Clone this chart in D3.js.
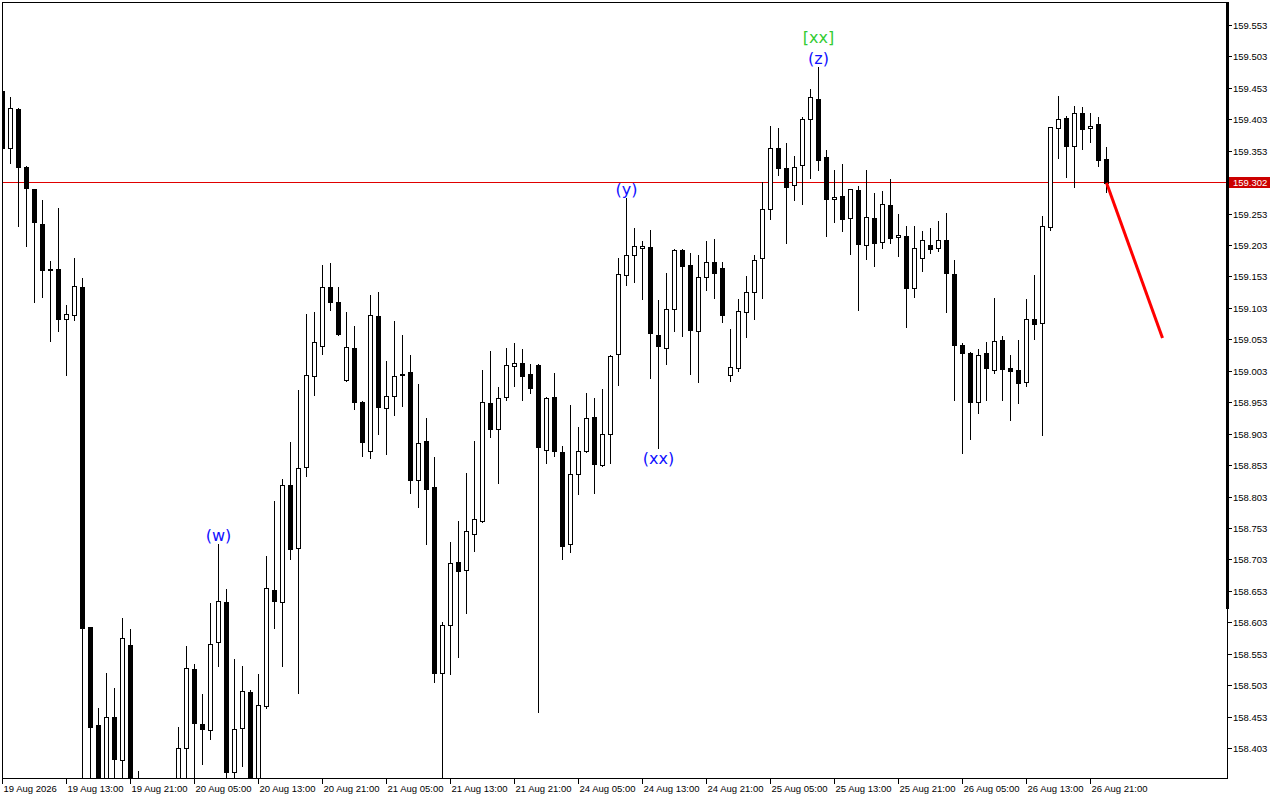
<!DOCTYPE html>
<html lang="en">
<head>
<meta charset="utf-8">
<script src="https://d3js.org/d3.v7.min.js"></script>
<style>
body { margin: 0; background: #fff; }
svg { display: block; }
text { font-family: "Liberation Sans", Arial, sans-serif; font-size: 9.5px; fill: #000; }
.wave { font-family: "DejaVu Sans", sans-serif; font-size: 16px; }
</style>
</head>
<body>

<svg width="1280" height="800"></svg>

<script>
// hourly bars, oldest first
var barOpen = [
  159.448, 159.358, 159.420, 159.327, 159.292, 159.237, 159.165, 159.165, 159.086, 159.092,
  159.136, 158.595, 158.440, 158.345, 158.452, 158.384, 158.567, 158.350, 158.330, 158.300,
  158.320, 158.310, 158.330, 158.403, 158.529, 158.441, 158.432, 158.572, 158.635, 158.365,
  158.435, 158.492, 158.345, 158.470, 158.654, 158.635, 158.821, 158.721, 158.850, 158.994,
  159.043, 159.136, 159.112, 158.988, 159.039, 158.954, 158.876, 159.090, 158.944, 158.963,
  158.998, 159.001, 158.830, 158.891, 158.818, 158.522, 158.598, 158.699, 158.686, 158.743,
  158.764, 158.951, 158.911, 158.961, 159.010, 159.015, 158.998, 159.012, 158.877, 158.961,
  158.874, 158.727, 158.839, 158.875, 158.929, 158.853, 158.902, 159.029, 159.156, 159.187,
  159.198, 159.200, 159.060, 159.040, 159.101, 159.195, 159.171, 159.067, 159.152, 159.176,
  159.166, 158.997, 159.007, 159.096, 159.129, 159.182, 159.261, 159.358, 159.325, 159.298,
  159.330, 159.404, 159.436, 159.343, 159.276, 159.281, 159.246, 159.290, 159.203, 159.246,
  159.208, 159.266, 159.215, 159.217, 159.134, 159.183, 159.203, 159.198, 159.211, 159.157,
  159.044, 159.032, 158.954, 159.031, 159.005, 159.052, 159.007, 159.005, 158.985, 159.086,
  159.079, 159.231, 159.389, 159.405, 159.361, 159.413, 159.389, 159.396, 159.340
];
var barHigh = [
  159.452, 159.438, 159.421, 159.328, 159.292, 159.275, 159.178, 159.262, 159.108, 159.183,
  159.151, 158.596, 158.467, 158.522, 158.498, 158.609, 158.592, 158.366, 158.345, 158.330,
  158.350, 158.345, 158.437, 158.565, 158.537, 158.489, 158.634, 158.728, 158.656, 158.545,
  158.533, 158.496, 158.521, 158.708, 158.796, 158.831, 158.889, 158.972, 159.093, 159.097,
  159.172, 159.175, 159.137, 159.097, 159.074, 158.955, 159.124, 159.128, 159.019, 159.082,
  159.060, 159.028, 158.982, 158.928, 158.866, 158.603, 158.731, 158.764, 158.840, 158.891,
  159.004, 159.034, 158.977, 159.039, 159.047, 159.038, 159.014, 159.013, 158.962, 158.999,
  158.884, 158.948, 158.914, 158.968, 158.960, 158.974, 159.028, 159.182, 159.278, 159.230,
  159.209, 159.227, 159.116, 159.158, 159.197, 159.197, 159.190, 159.187, 159.209, 159.213,
  159.176, 159.069, 159.117, 159.154, 159.187, 159.303, 159.392, 159.389, 159.365, 159.344,
  159.407, 159.451, 159.486, 159.354, 159.322, 159.332, 159.292, 159.297, 159.322, 159.286,
  159.289, 159.308, 159.252, 159.233, 159.233, 159.225, 159.230, 159.241, 159.254, 159.179,
  159.047, 159.033, 159.037, 159.049, 159.119, 159.059, 159.028, 159.052, 159.117, 159.155,
  159.249, 159.391, 159.440, 159.408, 159.424, 159.422, 159.413, 159.407, 159.359
];
var barLow = [
  159.352, 159.334, 159.234, 159.202, 159.113, 159.121, 159.050, 159.066, 158.996, 159.083,
  158.330, 158.340, 158.330, 158.330, 158.340, 158.340, 158.330, 158.310, 158.290, 158.270,
  158.290, 158.280, 158.310, 158.340, 158.340, 158.378, 158.417, 158.533, 158.340, 158.340,
  158.374, 158.330, 158.330, 158.467, 158.594, 158.534, 158.704, 158.491, 158.835, 158.964,
  159.030, 159.100, 159.060, 158.987, 158.942, 158.868, 158.865, 158.903, 158.870, 158.933,
  158.947, 158.809, 158.787, 158.728, 158.508, 158.320, 158.520, 158.548, 158.618, 158.717,
  158.762, 158.897, 158.825, 158.957, 158.979, 158.957, 158.968, 158.460, 158.856, 158.868,
  158.703, 158.715, 158.807, 158.874, 158.808, 158.852, 158.856, 158.981, 159.140, 159.144,
  159.117, 158.992, 158.880, 159.014, 159.067, 159.059, 158.998, 158.985, 159.132, 159.119,
  159.081, 158.987, 159.003, 159.056, 159.086, 159.119, 159.245, 159.315, 159.207, 159.275,
  159.269, 159.310, 159.323, 159.217, 159.240, 159.226, 159.188, 159.100, 159.181, 159.170,
  159.199, 159.206, 159.186, 159.072, 159.120, 159.162, 159.191, 159.193, 159.097, 158.957,
  158.873, 158.895, 158.936, 158.957, 159.000, 158.957, 158.925, 158.952, 158.978, 159.054,
  158.901, 159.227, 159.342, 159.312, 159.296, 159.356, 159.367, 159.329, 159.287
];
var barClose = [
  159.358, 159.421, 159.327, 159.293, 159.239, 159.164, 159.164, 159.085, 159.094, 159.138,
  158.594, 158.436, 158.345, 158.453, 158.386, 158.578, 158.345, 158.330, 158.300, 158.320,
  158.310, 158.335, 158.403, 158.530, 158.443, 158.433, 158.569, 158.637, 158.365, 158.433,
  158.494, 158.345, 158.471, 158.658, 158.637, 158.821, 158.720, 158.848, 158.996, 159.049,
  159.136, 159.112, 159.062, 159.041, 158.954, 158.890, 159.092, 158.945, 158.963, 158.995,
  158.997, 158.830, 158.888, 158.815, 158.523, 158.598, 158.697, 158.684, 158.748, 158.767,
  158.953, 158.911, 158.959, 159.012, 159.015, 158.995, 158.975, 158.881, 158.959, 158.875,
  158.725, 158.839, 158.875, 158.928, 158.854, 158.902, 159.027, 159.157, 159.187, 159.201,
  159.201, 159.063, 159.043, 159.102, 159.195, 159.170, 159.068, 159.152, 159.176, 159.158,
  159.092, 159.009, 159.098, 159.129, 159.180, 159.261, 159.357, 159.326, 159.296, 159.327,
  159.403, 159.438, 159.339, 159.277, 159.279, 159.245, 159.292, 159.204, 159.247, 159.207,
  159.268, 159.214, 159.219, 159.135, 159.199, 159.211, 159.196, 159.211, 159.159, 159.044,
  159.032, 158.954, 159.028, 159.008, 159.050, 159.006, 159.003, 158.984, 159.086, 159.078,
  159.233, 159.390, 159.403, 159.361, 159.413, 159.388, 159.393, 159.339, 159.302
];

// one label every 8 bars
var timeLabels = [
  "19 Aug 2026", "19 Aug 13:00", "19 Aug 21:00", "20 Aug 05:00", "20 Aug 13:00", "20 Aug 21:00",
  "21 Aug 05:00", "21 Aug 13:00", "21 Aug 21:00", "24 Aug 05:00", "24 Aug 13:00", "24 Aug 21:00",
  "25 Aug 05:00", "25 Aug 13:00", "25 Aug 21:00", "26 Aug 05:00", "26 Aug 13:00", "26 Aug 21:00"
];
var priceTicks = [
  158.403, 158.453, 158.503, 158.553, 158.603, 158.653, 158.703, 158.753, 158.803, 158.853,
  158.903, 158.953, 159.003, 159.053, 159.103, 159.153, 159.203, 159.253, 159.303, 159.353,
  159.403, 159.453, 159.503, 159.553
];
var bidPrice = 159.302;

// wave marks: bar index, text, stack level (-1 = under the bar)
var waveIdx   = [27, 82, 78, 102, 102];
var waveText  = ["(w)", "(xx)", "(y)", "(z)", "[xx]"];
var waveLevel = [0, -1, 0, 0, 1];

// projected path
var forecastIdx   = [138, 145];
var forecastPrice = [159.302, 159.055];

var svg = d3.select("svg"),
    plotLeft = 2, plotRight = 1227, plotTop = 2, plotBottom = 778;

var x = d3.scaleLinear().domain([0, 138]).range([2, 1106]);
var y = d3.scaleLinear().domain([158.403, 159.553]).range([748, 25]);

var px = function(v) { return Math.round(v) + 0.5; };

svg.append("rect").attr("width", 1280).attr("height", 800).attr("fill", "#fff");

svg.append("clipPath").attr("id", "plot")
  .append("rect").attr("x", plotLeft).attr("y", plotTop)
  .attr("width", plotRight - plotLeft).attr("height", plotBottom - plotTop);

var plot = svg.append("g").attr("clip-path", "url(#plot)");

// bid line
var bidY = Math.floor(y(bidPrice)) + 0.5;
plot.append("rect")
  .attr("x", plotLeft).attr("y", bidY - 0.5)
  .attr("width", plotRight - plotLeft).attr("height", 1)
  .attr("fill", "#e00000");

var bars = d3.range(barOpen.length);

var candle = plot.append("g").attr("shape-rendering", "crispEdges")
  .selectAll("g").data(bars).enter().append("g");

candle.append("line")
  .attr("x1", function(i) { return Math.round(x(i)) + 0.5; })
  .attr("x2", function(i) { return Math.round(x(i)) + 0.5; })
  .attr("y1", function(i) { return Math.round(y(barHigh[i])); })
  .attr("y2", function(i) { return Math.round(y(barLow[i])) + 1; })
  .attr("stroke", "#000");

candle.append("rect")
  .attr("x", function(i) { return Math.round(x(i)) - 1.5; })
  .attr("y", function(i) { return px(y(Math.max(barOpen[i], barClose[i]))); })
  .attr("width", 4)
  .attr("height", function(i) {
    return Math.round(y(Math.min(barOpen[i], barClose[i]))) - Math.round(y(Math.max(barOpen[i], barClose[i])));
  })
  .attr("fill", function(i) { return barClose[i] < barOpen[i] ? "#000" : "#fff"; })
  .attr("stroke", "#000");

// projection
plot.append("path")
  .datum(forecastIdx)
  .attr("d", d3.line()
    .x(function(d) { return x(d) + 0.5; })
    .y(function(d, k) { return y(forecastPrice[k]); }))
  .attr("fill", "none")
  .attr("stroke", "#ff0000")
  .attr("stroke-width", 3);

// wave labels
plot.selectAll("text.wave").data(waveIdx).enter().append("text")
  .attr("class", "wave")
  .attr("text-anchor", "middle")
  .attr("x", function(d) { return x(d) + 0.5; })
  .attr("y", function(d, k) {
    if (waveLevel[k] < 0) return y(barLow[d]) + 16;
    return y(barHigh[d]) - 3 - waveLevel[k] * 21;
  })
  .style("fill", function(d, k) { return waveText[k].charAt(0) == "[" ? "#33cc33" : "#1010ff"; })
  .text(function(d, k) { return waveText[k]; });

// frame
var frame = svg.append("g").attr("shape-rendering", "crispEdges").attr("stroke", "#000");
frame.append("line").attr("x1", plotLeft).attr("x2", plotRight + 1).attr("y1", plotTop + 0.5).attr("y2", plotTop + 0.5);
frame.append("line").attr("x1", plotLeft + 0.5).attr("x2", plotLeft + 0.5).attr("y1", plotTop).attr("y2", plotBottom);
frame.append("line").attr("x1", plotLeft).attr("x2", plotRight + 1).attr("y1", plotBottom + 0.5).attr("y2", plotBottom + 0.5);
frame.append("line").attr("x1", plotRight + 0.5).attr("x2", plotRight + 0.5).attr("y1", plotTop).attr("y2", plotBottom + 1);
svg.append("rect").attr("x", plotRight - 1).attr("y", plotTop).attr("width", 3).attr("height", 607)
  .attr("fill", "#000");

// price axis
var yTicks = svg.append("g").selectAll("g").data(priceTicks).enter().append("g")
  .attr("transform", function(d) { return "translate(0," + px(y(d)) + ")"; });
yTicks.append("line").attr("x1", plotRight + 1).attr("x2", plotRight + 5)
  .attr("stroke", "#000").attr("shape-rendering", "crispEdges");
yTicks.append("text").attr("x", plotRight + 6).attr("dy", "0.35em")
  .text(function(d) { return d.toFixed(3); });

// bid price tag
svg.append("rect").attr("x", plotRight + 2).attr("y", bidY - 5.5).attr("width", 41).attr("height", 11)
  .attr("fill", "#cc0000");
svg.append("text").attr("x", plotRight + 6).attr("y", bidY).attr("dy", "0.35em")
  .style("fill", "#fff").text(bidPrice.toFixed(3));

// time axis
var xTicks = svg.append("g").selectAll("g").data(timeLabels).enter().append("g")
  .attr("transform", function(d, k) { return "translate(" + (Math.round(x(k * 8)) + 0.5) + ",0)"; });
xTicks.append("line").attr("y1", plotBottom).attr("y2", plotBottom + 6)
  .attr("stroke", "#000").attr("shape-rendering", "crispEdges");
xTicks.append("text").attr("x", 1).attr("y", plotBottom + 14)
  .text(function(d) { return d; });
</script>

</body>
</html>
